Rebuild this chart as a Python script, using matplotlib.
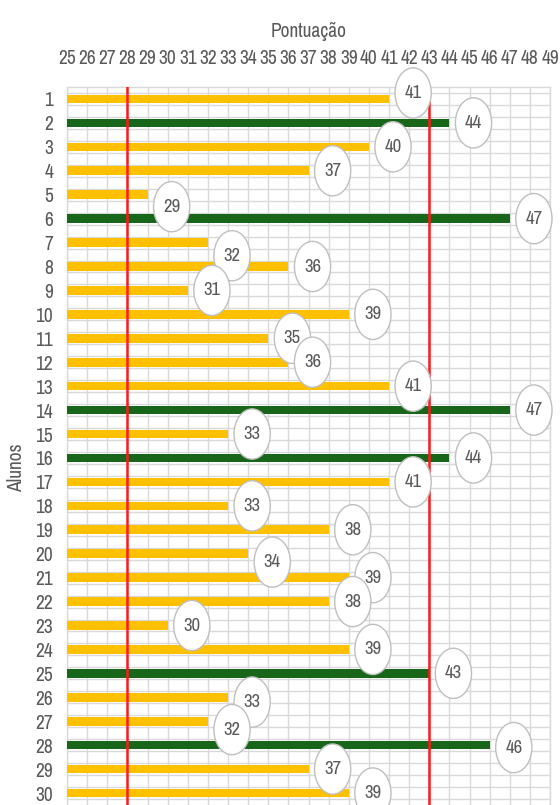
import matplotlib
matplotlib.use("Agg")
import matplotlib.pyplot as plt
from matplotlib import font_manager
from matplotlib.patches import Ellipse
import numpy as np

# students and their scores
alunos = list(range(1, 31))
pontuacao = [41, 44, 40, 37, 29, 47, 32, 36, 31, 39,
             35, 36, 41, 47, 33, 44, 41, 33, 38, 34,
             39, 38, 30, 39, 43, 33, 32, 46, 37, 39]

# reference limits drawn as red lines
limite_inf = 28
limite_sup = 43

x_min, x_max = 25, 49

GOLD = "#FFC000"
GREEN = "#17661A"
RED = "#FF1A1A"
GRID = "#D9D9D9"
TXT = "#595959"

# small vertical nudges of some labels (in category units), like excel did
label_nudge = {1: -0.25, 5: 0.5, 7: 0.55, 20: 0.35, 26: 0.2, 27: 0.35, 28: 0.1}

# look for a narrow face, the excel chart uses a tall condensed font
names = sorted({f.name for f in font_manager.fontManager.ttflist})
narrow = [n for n in names if "Narrow" in n or "Condensed" in n]
FONT = narrow[:1] + ["Roboto", "DejaVu Sans"]
plt.rcParams['font.family'] = FONT

fig = plt.figure(figsize=(5.6, 8.05), dpi=100)
ax = fig.add_axes([67 / 560, 0.0, (550 - 67) / 560, 1 - 87 / 805])

colors = [GREEN if p >= limite_sup else GOLD for p in pontuacao]
ax.barh(alunos, np.array(pontuacao) - x_min, left=x_min, height=0.36,
        color=colors, zorder=3)

ax.axvline(limite_inf, color=RED, lw=1.8, zorder=4)
ax.axvline(limite_sup, color=RED, lw=1.8, zorder=4)

fs = 14 if narrow else 9.5

# data labels in white ellipses
for i, (a, p) in enumerate(zip(alunos, pontuacao)):
    cx = p + 1.2
    cy = a + label_nudge.get(a, 0)
    e = Ellipse((cx, cy), width=1.8, height=2.1, facecolor="white",
                edgecolor="#BFBFBF", lw=1.0, zorder=5 + i, clip_on=False)
    ax.add_patch(e)
    ax.text(cx, cy, str(p), ha="center", va="center", fontsize=fs - 0.5,
            color=TXT, zorder=5 + i, clip_on=False)

ax.set_xlim(x_min, x_max)
ax.set_ylim(30.5, 0.5)

ax.set_xticks(range(x_min, x_max + 1))
ax.set_yticks(alunos)
ax.set_yticks(np.arange(0.75, 30.5, 0.5), minor=True)
ax.xaxis.tick_top()
ax.tick_params(axis="x", length=0, pad=14, labelsize=fs, labelcolor=TXT)
ax.tick_params(axis="y", which="both", length=0, pad=10, labelsize=fs, labelcolor=TXT)

ax.grid(axis="x", color=GRID, lw=1.0, zorder=0)
ax.grid(axis="y", which="minor", color=GRID, lw=1.0, zorder=0)
ax.set_axisbelow(True)

for side in ["top", "left", "right"]:
    ax.spines[side].set_color(GRID)
    ax.spines[side].set_linewidth(1.0)
ax.spines["bottom"].set_visible(False)

ax.set_xlabel("Pontuação", fontsize=fs, color=TXT, labelpad=8)
ax.xaxis.set_label_position("top")
ax.set_ylabel("Alunos", fontsize=fs, color=TXT, fontweight="bold")
ax.yaxis.set_label_coords(-0.085, 0.47)

fig.savefig("out.png", dpi=100)
